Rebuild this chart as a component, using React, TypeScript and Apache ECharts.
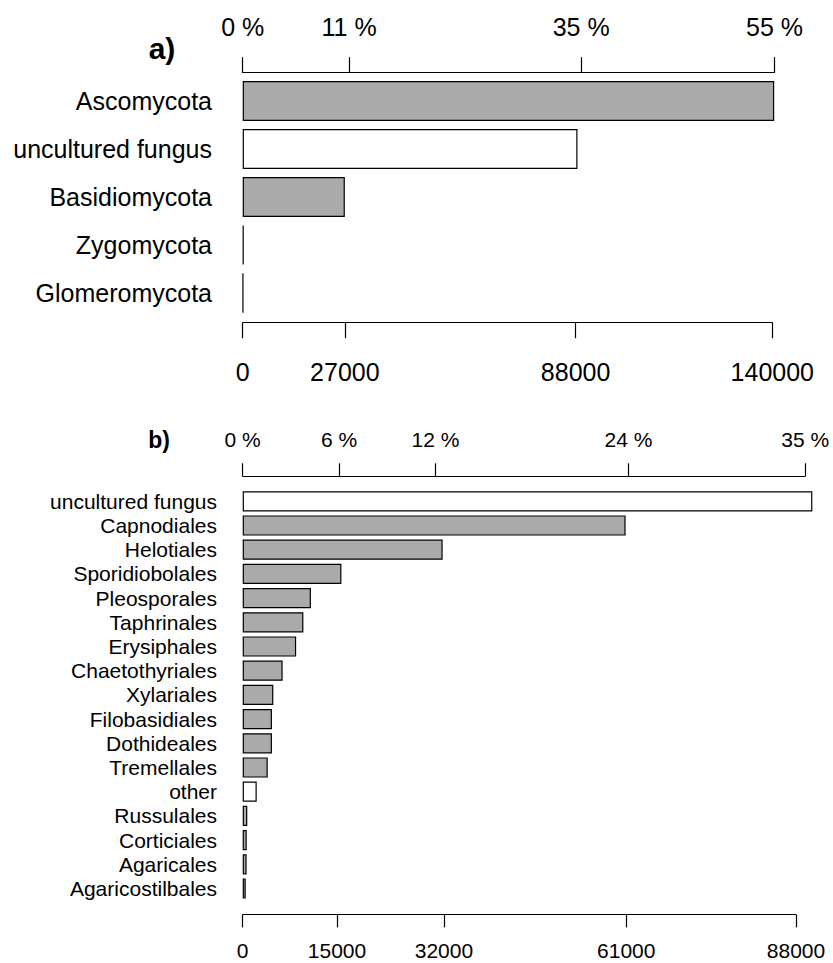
import React, { useEffect, useRef } from "react";
import * as echarts from "echarts";

// ---- data ----
const TOTAL_READS = 255600;

const phylumNames = ["Ascomycota", "uncultured fungus", "Basidiomycota", "Zygomycota", "Glomeromycota"];
const phylumCounts = [140500, 88500, 27000, 250, 120];
const phylumCountTicks = [0, 27000, 88000, 140000];
const phylumPercentTicks = [0, 11, 35, 55];

const orderNames = [
  "uncultured fungus", "Capnodiales", "Helotiales", "Sporidiobolales", "Pleosporales",
  "Taphrinales", "Erysiphales", "Chaetothyriales", "Xylariales", "Filobasidiales",
  "Dothideales", "Tremellales", "other", "Russulales", "Corticiales", "Agaricales",
  "Agaricostilbales",
];
const orderCounts = [
  90600, 60900, 31800, 15700, 10850, 9650, 8500, 6350, 4870, 4650,
  4650, 3980, 2230, 730, 640, 620, 480,
];
const orderCountTicks = [0, 15000, 32000, 61000, 88000];
const orderPercentTicks = [0, 6, 12, 24, 35];

const unassignedNames = ["uncultured fungus", "other"];

// ---- styling / layout ----
const FONT = "'Liberation Sans', Arial, Helvetica, sans-serif";
const FILL_GRAY = "#aaaaaa";
const FILL_WHITE = "#ffffff";
const INK = "#000000";

type Panel = {
  tag: string;
  tagX: number;
  tagY: number;
  tagSize: number;
  names: string[];
  counts: number[];
  countTicks: number[];
  pctTicks: number[];
  fontSize: number;
  left: number;
  spanPx: number; // pixel span from 0 to last count tick
  barsTop: number;
  bandPx: number;
  topAxisY: number;
  bottomAxisY: number;
  tickLen: number;
  topMargin: number;
  bottomMargin: number;
  bottomLineHeight: number;
  catMargin: number;
};

const panels: Panel[] = [
  {
    tag: "a)", tagX: 162, tagY: 48, tagSize: 30,
    names: phylumNames, counts: phylumCounts,
    countTicks: phylumCountTicks, pctTicks: phylumPercentTicks,
    fontSize: 25, left: 242.7, spanPx: 529.6, barsTop: 77, bandPx: 48,
    topAxisY: 71.7, bottomAxisY: 322.7, tickLen: 15.5,
    topMargin: 32.5, bottomMargin: 36.5, bottomLineHeight: 25, catMargin: 30.7,
  },
  {
    tag: "b)", tagX: 159, tagY: 440, tagSize: 23,
    names: orderNames, counts: orderCounts,
    countTicks: orderCountTicks, pctTicks: orderPercentTicks,
    fontSize: 21, left: 242.7, spanPx: 553.3, barsTop: 489.2, bandPx: 24.2,
    topAxisY: 475, bottomAxisY: 914.7, tickLen: 12.7,
    topMargin: 25.5, bottomMargin: 28.5, bottomLineHeight: 14, catMargin: 25.7,
  },
];

function buildOption() {
  const grid: any[] = [];
  const xAxis: any[] = [];
  const yAxis: any[] = [];
  const series: any[] = [];
  const graphic: any[] = [];

  panels.forEach((p, k) => {
    const lastCount = p.countTicks[p.countTicks.length - 1];
    const lastPct = p.pctTicks[p.pctTicks.length - 1];
    const ppu = p.spanPx / lastCount;
    const maxCount = Math.max(...p.counts);
    const gi = k * 3;
    const lineStyle = { color: INK, width: 1.2 };
    const labelBase = { color: INK, fontSize: p.fontSize, fontFamily: FONT };

    // bars grid
    grid.push({
      left: p.left, top: p.barsTop,
      width: ppu * maxCount, height: p.bandPx * p.names.length,
      outerBoundsMode: "none",
    });
    xAxis.push({ gridIndex: gi, type: "value", min: 0, max: maxCount, show: false });
    yAxis.push({
      gridIndex: gi, type: "category", data: p.names, inverse: true,
      axisLine: { show: false }, axisTick: { show: false }, splitLine: { show: false },
      axisLabel: { ...labelBase, margin: p.catMargin, interval: 0 },
    });
    series.push({
      type: "bar", xAxisIndex: gi, yAxisIndex: gi, barWidth: "83.3%",
      data: p.counts.map((v, i) => ({
        value: v,
        itemStyle: { color: unassignedNames.includes(p.names[i]) ? FILL_WHITE : FILL_GRAY },
      })),
      itemStyle: { borderColor: INK, borderWidth: 1.2 },
      silent: true,
    });

    // top (percent) axis grid
    grid.push({
      left: p.left, top: p.topAxisY,
      width: ppu * (lastPct / 100) * TOTAL_READS, height: 1,
      outerBoundsMode: "none",
    });
    xAxis.push({
      gridIndex: gi + 1, type: "value", position: "top", min: 0, max: lastPct,
      axisLine: { show: true, lineStyle },
      axisTick: { show: true, length: p.tickLen, customValues: p.pctTicks, lineStyle },
      axisLabel: {
        ...labelBase, margin: p.topMargin, customValues: p.pctTicks,
        formatter: (v: number) => `${v} %`,
      },
      splitLine: { show: false },
    });
    yAxis.push({ gridIndex: gi + 1, type: "value", show: false });

    // bottom (count) axis grid
    grid.push({
      left: p.left, top: p.bottomAxisY - 1,
      width: ppu * lastCount, height: 1,
      outerBoundsMode: "none",
    });
    xAxis.push({
      gridIndex: gi + 2, type: "value", position: "bottom", min: 0, max: lastCount,
      axisLine: { show: true, lineStyle },
      axisTick: { show: true, length: p.tickLen, customValues: p.countTicks, lineStyle },
      axisLabel: {
        ...labelBase, margin: p.bottomMargin, lineHeight: p.bottomLineHeight,
        customValues: p.countTicks,
        formatter: (v: number) => String(v),
      },
      splitLine: { show: false },
    });
    yAxis.push({ gridIndex: gi + 2, type: "value", show: false });

    graphic.push({
      type: "text", x: p.tagX, y: p.tagY,
      style: {
        text: p.tag, fill: INK, font: `bold ${p.tagSize}px ${FONT}`,
        align: "center", verticalAlign: "middle",
      },
    });
  });

  return {
    animation: false,
    backgroundColor: "#ffffff",
    grid, xAxis, yAxis, series, graphic,
  };
}

export default function App() {
  const ref = useRef<HTMLDivElement>(null);
  useEffect(() => {
    if (!ref.current) return;
    const chart = echarts.init(ref.current, undefined, { renderer: "svg" });
    chart.setOption(buildOption());
    return () => chart.dispose();
  }, []);
  return (
    <div
      ref={ref}
      style={{ position: "absolute", left: 0, top: 0, width: 833, height: 963, background: "#fff" }}
    />
  );
}
